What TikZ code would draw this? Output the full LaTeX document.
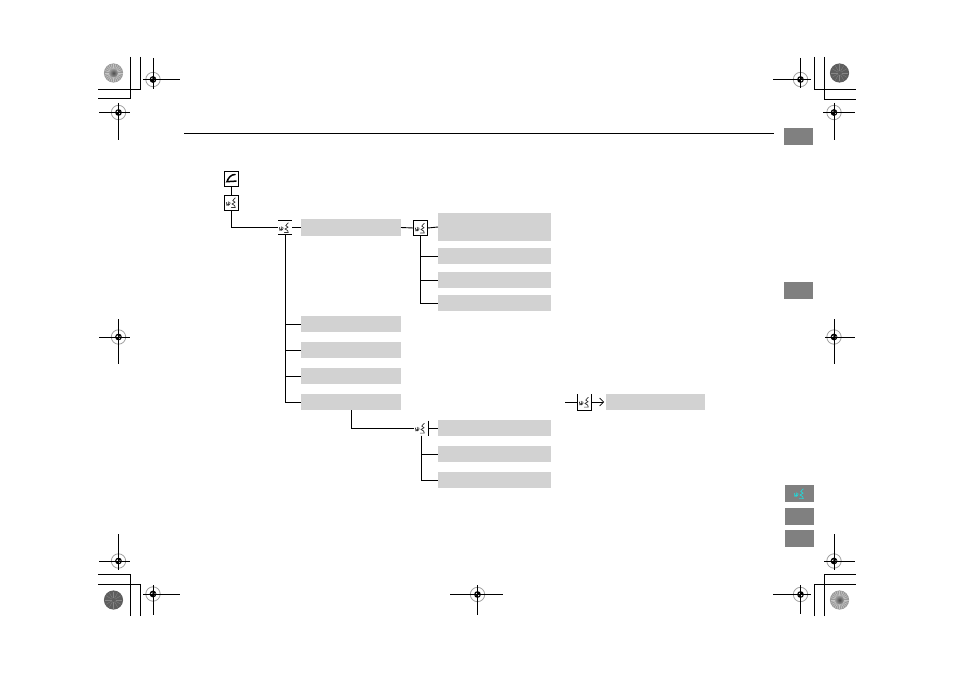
\documentclass[tikz,border=0pt]{standalone}
\usetikzlibrary{arrows.meta}
\definecolor{boxgray}{HTML}{D2D2D2}
\definecolor{tabgray}{HTML}{808080}
\definecolor{iconcyan}{HTML}{22D8D8}
\definecolor{discdark}{HTML}{5E5E5E}
\tikzset{
  x=1pt,y=-1pt,
  wire/.style={line width=0.9pt,black},
  gbox/.style={fill=boxgray,draw=none,inner sep=0pt,outer sep=0pt,minimum height=16.5pt},
  wide/.style={gbox,minimum width=100pt},
  wider/.style={gbox,minimum width=113pt},
  tab/.style={fill=tabgray,draw=none,inner sep=0pt,outer sep=0pt,minimum width=29pt,minimum height=17pt},
  ico/.style={inner sep=0pt,outer sep=0pt,minimum width=14.5pt,minimum height=15pt},
  pics/voice/.style={code={
    \draw[line width=0.7pt,#1,line cap=round,line join=round]
      (-5,-0.5) -- (-4.6,2.6) -- (-3,0.6) (-3.2,-1.2) -- (-3,2.4) -- (-1.4,0.6) -- (-1.8,-0.8)
      (3.8,-5.2) -- (1.2,-2.4) -- (3.6,-0.8) -- (0.4,1) -- (3,2.4) -- (3.8,4.6) -- (-0.2,4.6);
  }},
  pics/voice/.default=black!80,
  pics/regmark/.style={code={
    \draw[gray!75,line width=0.8pt] (0,0) circle (7.2pt);
    \fill[black] (0,0) circle (3.4pt);
    \fill[white] (0.5,-0.5) -- (3,-0.5) arc (-10:-80:3pt) -- cycle;
    \fill[white] (-0.5,0.5) -- (-3,0.5) arc (170:100:3pt) -- cycle;
  }},
  pics/lightdisc/.style={code={
    \fill[gray!80] (0,0) circle (9.6pt);
    \foreach \a in {0,15,...,345} {\draw[gray!45,line width=0.6pt] (\a:4pt) -- (\a:9pt);}
    \shade[inner color=black!70,outer color=gray!75] (0,0) circle (4.5pt);
  }},
  pics/darkdisc/.style={code={
    \fill[discdark] (0,0) circle (9.6pt);
    \foreach \a in {0,30,...,330} {\draw[discdark!75!white,line width=0.3pt] (\a:2pt) -- (\a:8.5pt);}
  }}
}
\newcommand{\regm}[7]{% cx cy h1 h2 v1 v2 name
  \pic at (#1,#2) {regmark};
  \coordinate (#7a) at (#3,#2);\coordinate (#7b) at (#4,#2);
  \coordinate (#7c) at (#1,#5);\coordinate (#7d) at (#1,#6);
  \draw[wire] (#7a) -- (#7b) (#7c) -- (#7d);
}
\begin{document}
\begin{tikzpicture}
\useasboundingbox (0,0) rectangle (954,674);
% crop corners
\draw[wire] (130,57) -- (130,98.5) -- (98,98.5);
\draw[wire] (140.5,57) -- (140.5,89) -- (98,89);
\draw[wire] (814,57) -- (814,89) -- (856,89);
\draw[wire] (824,57) -- (824,99) -- (856,99);
\draw[wire] (130,616) -- (130,574) -- (98,574);
\draw[wire] (140.5,616) -- (140.5,584) -- (98,584);
\draw[wire] (824,616) -- (824,574) -- (856,574);
\draw[wire] (814,616) -- (814,584) -- (856,584);
% discs
\pic at (113.5,73) {lightdisc};
\pic at (839.5,73) {darkdisc};
\pic at (113.5,600) {darkdisc};
\pic at (839.5,600) {lightdisc};
% registration marks
\regm{153}{79.5}{143}{180}{58}{89}{m1}
\regm{118.5}{112.5}{99}{130}{103}{140}{m2}
\regm{800.5}{79.5}{773}{811}{58}{88}{m3}
\regm{834}{112.5}{823}{855}{103}{140}{m4}
\regm{118.5}{337}{99}{130}{319}{364}{m5}
\regm{834}{337}{825}{855}{319}{364}{m6}
\regm{118.5}{561}{99}{130}{534}{570}{m7}
\regm{834}{561}{824}{855}{534}{570}{m8}
\regm{153}{594}{143}{180}{585}{615}{m9}
\regm{477.5}{594.5}{450}{503}{585}{615}{m10}
\regm{800.5}{594.5}{773}{811}{585}{614}{m11}
% top rule
\coordinate (ruleL) at (184,133.5);
\coordinate (ruleR) at (774,133.5);
\draw[wire] (ruleL) -- (ruleR);
% tabs
\node[tab] (t1) at (798.5,136.5) {};
\node[tab] (t2) at (798.5,290.5) {};
\node[tab] (t3) at (799.5,493.5) {};
\node[tab] (t4) at (799.5,516.5) {};
\node[tab] (t5) at (799.5,538.5) {};
\pic at (799.5,494) {voice=iconcyan};
% grey boxes
\node[wide] (b1) at (351,227.5) {};
\node[wider,minimum height=28pt] (c1) at (494.5,227) {};
\node[wider] (c2) at (494.5,256) {};
\node[wider] (c3) at (494.5,280) {};
\node[wider] (c4) at (494.5,303) {};
\node[wide] (b2) at (351,324) {};
\node[wide] (b3) at (351,350) {};
\node[wide] (b4) at (351,376) {};
\node[wide] (b5) at (351,402) {};
\node[wider] (d1) at (494.5,428) {};
\node[wider] (d2) at (494.5,454) {};
\node[wider] (d3) at (494.5,480) {};
\node[wide,minimum width=99pt] (e1) at (655.5,402) {};
% icons
\node[ico,draw=black,line width=0.9pt] (ph) at (231.5,178.5) {};
\draw[line width=1.5pt,line cap=round] ([shift={(3.6,-4)}]ph.center) .. controls ([shift={(-0.5,-4)}]ph.center) and ([shift={(-3,-1)}]ph.center) .. ([shift={(-4.6,3.2)}]ph.center) -- ([shift={(4.6,2.6)}]ph.center);
\node[ico] (i1) at (231.5,202.5) {};
\draw[wire] (i1.south west) -- (i1.north west) -- (i1.north east) -- (i1.south east) -- cycle;
\pic at (231.5,203) {voice};
\node[ico] (i2) at (285,227.5) {};
\draw[wire] (278,220.5) -- (292,220.5) (278,234.5) -- (292,234.5);
\pic at (284.5,228) {voice};
\node[ico] (i3) at (420.5,228) {};
\draw[wire] (i3.south west) -- (i3.north west) -- (i3.north east) -- (i3.south east) -- cycle;
\pic at (420.5,228.5) {voice};
\node[ico] (i4) at (421,428) {};
\draw[wire] (i4.north east) -- (i4.south east);
\pic at (420.5,428.5) {voice};
\node[ico,minimum height=16pt] (i5) at (584.5,402) {};
\draw[wire] (i5.south west) -- (i5.north west) (i5.north east) -- (i5.south east) (i5.south west) -- (i5.south east);
\pic at (584.5,402.5) {voice};
\coordinate (free) at (565,402);
% connectors
\draw[wire] (ph.south) -- (i1.north);
\draw[wire] (i1.south) |- (i2.west);
\draw[wire] (i2.east) -- (b1.west);
\draw[wire] (i2.south) |- (b2.west);
\draw[wire] (i2.south) |- (b3.west);
\draw[wire] (i2.south) |- (b4.west);
\draw[wire] (i2.south) |- (b5.west);
\draw[wire] (b1.east) -- (i3.west);
\draw[wire] (i3.east) -- (c1.west);
\draw[wire] (i3.south) |- (c2.west);
\draw[wire] (i3.south) |- (c3.west);
\draw[wire] (i3.south) |- (c4.west);
\draw[wire] (b5.south) |- (i4.west);
\draw[wire] (i4.east) -- (d1.west);
\draw[wire] (i4.south) |- (d2.west);
\draw[wire] (i4.south) |- (d3.west);
\draw[wire] (free) -- (i5.west);
\draw[line width=0.6pt,-{Straight Barb[length=4pt,width=8pt]}] (i5.east) -- ([xshift=-2pt]e1.west);
\end{tikzpicture}
\end{document}
